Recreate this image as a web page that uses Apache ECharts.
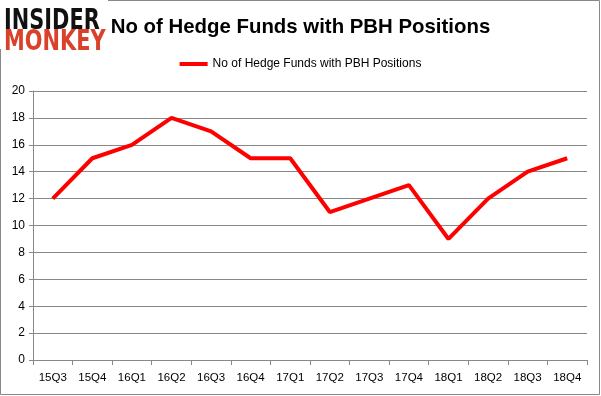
<!DOCTYPE html>
<html><head><meta charset="utf-8">
<script src="https://cdn.jsdelivr.net/npm/echarts@6/dist/echarts.min.js"></script>
<style>html,body{margin:0;padding:0;background:#fff}#c{width:601px;height:396px}</style>
</head><body><div id="c"></div>
<script>
const categories = ['15Q3','15Q4','16Q1','16Q2','16Q3','16Q4','17Q1','17Q2','17Q3','17Q4','18Q1','18Q2','18Q3','18Q4'];
const seriesName = 'No of Hedge Funds with PBH Positions';
const values = [12,15,16,18,17,15,15,11,12,13,9,12,14,15];
const titleText = 'No of Hedge Funds with PBH Positions';

const chart = echarts.init(document.getElementById('c'), null, {renderer:'canvas'});
chart.setOption({
  backgroundColor:'#fff',
  animation:false,
  title:{text:titleText,left:'center',top:12,
    textStyle:{fontFamily:'Liberation Sans',fontWeight:'bold',fontSize:20.4,color:'#000'}},
  legend:{top:53,left:'center',itemWidth:28,itemHeight:4,itemGap:4,icon:'rect',
    textStyle:{fontFamily:'Liberation Sans',fontSize:12,color:'#000'},
    data:[seriesName]},
  grid:{left:33,right:14,top:91,bottom:36,containLabel:false},
  xAxis:{type:'category',data:categories,boundaryGap:true,
    axisLine:{lineStyle:{color:'#888',width:1}},
    axisTick:{show:true,length:5,lineStyle:{color:'#888'}},
    axisLabel:{fontFamily:'Liberation Sans',fontSize:11.5,color:'#000',margin:12},
    splitLine:{show:false}},
  yAxis:{type:'value',min:0,max:20,interval:2,
    axisLine:{show:true,lineStyle:{color:'#888',width:1}},
    axisTick:{show:true,length:4,lineStyle:{color:'#888'}},
    axisLabel:{fontFamily:'Liberation Sans',fontSize:12,color:'#000',margin:8},
    splitLine:{show:true,lineStyle:{color:'#888',width:1}}},
  series:[{name:seriesName,type:'line',data:values,symbol:'none',
    lineStyle:{color:'#ff0000',width:4},itemStyle:{color:'#ff0000'}}],
  graphic:[
    {type:'rect',shape:{x:0.5,y:0.5,width:599,height:394},style:{fill:'none',stroke:'#888',lineWidth:1},z:-1},
    {type:'rect',shape:{x:0,y:0,width:108,height:49},style:{fill:'#fff'},z:10},
    {type:'text',x:4,y:7,scaleX:0.72,style:{text:'INSIDER',fontFamily:'DejaVu Sans',fontWeight:'bold',fontSize:29,fill:'#111'},z:11},
    {type:'text',x:4,y:28,scaleX:0.72,style:{text:'MONKEY',fontFamily:'DejaVu Sans',fontWeight:'bold',fontSize:29,fill:'#d9412b'},z:11}
  ]
});
</script></body></html>
